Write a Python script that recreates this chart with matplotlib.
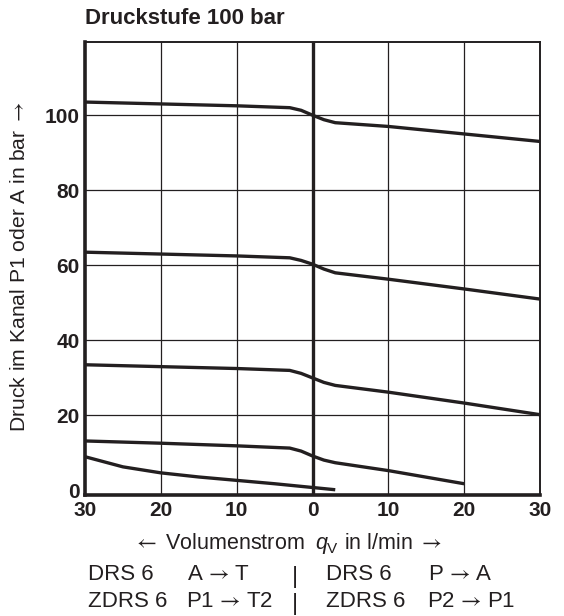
import numpy as np
import matplotlib.pyplot as plt

plt.rcParams['font.family'] = ['Liberation Sans', 'DejaVu Sans']
plt.rcParams['mathtext.fontset'] = 'stixsans'

# flow in l/min (negative = left half), pressure in bar
x1 = [-30, -20, -10, -3, -1.5, 0, 1.5, 3, 10, 20, 30]
y1 = [103.5, 103, 102.5, 102, 101.3, 100, 98.8, 98, 97, 95, 93]
x2 = [-30, -20, -10, -3, -1.5, 0, 1.5, 3, 10, 20, 30]
y2 = [63.5, 63, 62.5, 62, 61.3, 60.3, 59, 58, 56.3, 53.7, 51]
x3 = [-30, -20, -10, -3, -1.5, 0, 1.5, 3, 10, 20, 30]
y3 = [33.5, 33, 32.5, 32, 31.2, 30, 28.8, 28, 26.2, 23.3, 20.2]
x4 = [-30, -20, -10, -3, -1.5, 0, 1.5, 3, 10, 20]
y4 = [13.2, 12.6, 11.9, 11.3, 10.5, 9.2, 8.1, 7.4, 5.3, 1.8]
x5 = [-30, -25, -20, -15, -10, -5, 0, 3]
y5 = [9.0, 6.3, 4.7, 3.6, 2.7, 1.8, 0.8, 0.2]

xticks = [-30, -20, -10, 0, 10, 20, 30]
xlabels = ['30', '20', '10', '0', '10', '20', '30']
yticks = [0, 20, 40, 60, 80, 100]

ink = '#231f20'
ra = r'$\rightarrow$'
la = r'$\leftarrow$'
arr = r'$\,\rightarrow\,$'
W, H = 564, 616

fig = plt.figure(figsize=(5.64, 6.16), dpi=100)
ax = fig.add_axes([85/W, 1 - 495/H, 455/W, 453/H])

for xs, ys in [(x1, y1), (x2, y2), (x3, y3), (x4, y4), (x5, y5)]:
    ax.plot(xs, ys, color=ink, lw=2.4, solid_capstyle='butt', zorder=3)

ax.set_xlim(-30, 30)
ax.set_ylim(-1.2, 119.5)
ax.set_xticks(xticks)
ax.set_xticklabels(xlabels)
ax.set_yticks(yticks)
for v in [-20, -10, 10, 20]:
    ax.axvline(v, color=ink, lw=0.9, zorder=1)
for v in [20, 40, 60, 80, 100]:
    ax.axhline(v, color=ink, lw=0.9, zorder=1)
ax.axvline(0, color=ink, lw=2.4, zorder=2)

for s in ['left', 'bottom']:
    ax.spines[s].set_linewidth(2.6)
for s in ['top', 'right']:
    ax.spines[s].set_linewidth(1.4)
for s in ax.spines.values():
    s.set_color(ink)
ax.tick_params(length=0, pad=4)
for lab in ax.get_xticklabels() + ax.get_yticklabels():
    lab.set_family(['Liberation Sans Narrow', 'Liberation Sans'])
    lab.set_fontweight('bold')
    lab.set_fontsize(15)
    lab.set_color(ink)


def txt(x, y, s, **kw):
    kw.setdefault('fontsize', 16)
    kw.setdefault('color', ink)
    kw.setdefault('va', 'baseline')
    return fig.text(x / W, 1 - y / H, s, **kw)


txt(85, 24, 'Druckstufe 100 bar', fontsize=16, fontweight='bold')
fig.text(20/W, 1 - 267/H, 'Druck im Kanal P1 oder A in bar ' + ra, fontsize=15.2,
         color=ink, rotation=90, va='center', ha='center')

# x axis label, built from pieces
txt(133, 549, la + ' Volumenstrom', fontsize=15.5)
txt(315, 549, 'q', style='italic', fontsize=15.5)
txt(327, 553, 'V', fontsize=11)
txt(344, 549, 'in l/min ' + ra, fontsize=15.5)

# legend lines
rows = [
    (580, ['DRS 6', 'A' + arr + 'T', 'DRS 6', 'P' + arr + 'A'], [187, 428]),
    (607, ['ZDRS 6', 'P1' + arr + 'T2', 'ZDRS 6', 'P2' + arr + 'P1'], [186, 427]),
]
for yb, words, xs in rows:
    txt(88, yb, words[0])
    txt(xs[0], yb, words[1])
    txt(295, yb + 3, '|', fontsize=17, ha='center')
    txt(326, yb, words[2])
    txt(xs[1], yb, words[3])

fig.savefig('out.png', dpi=100)
